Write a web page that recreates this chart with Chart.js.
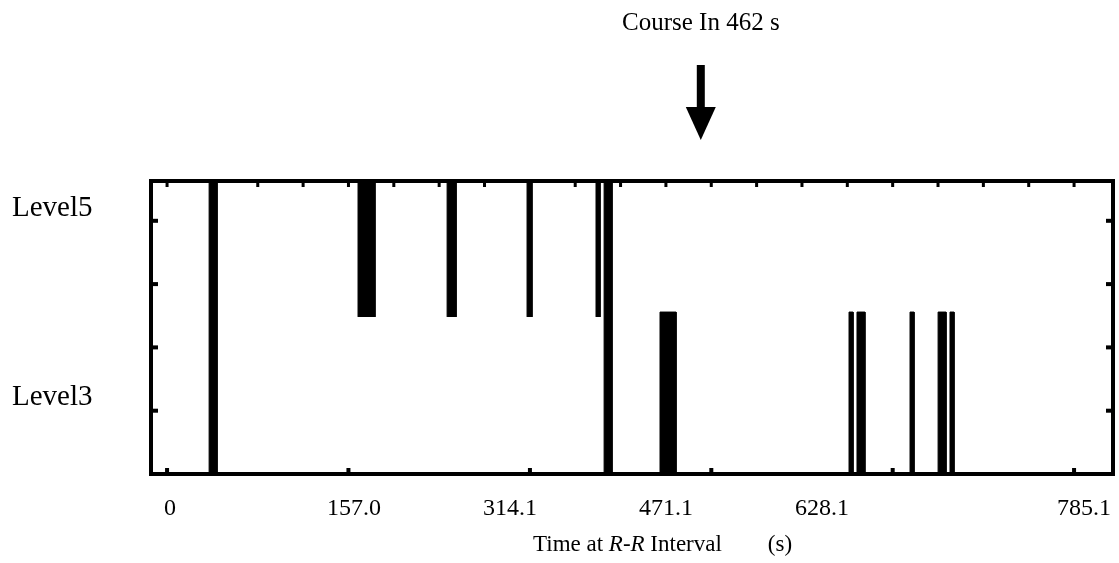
<!DOCTYPE html>
<html>
<head>
<meta charset="utf-8">
<script src="https://cdn.jsdelivr.net/npm/chart.js@4.4.1/dist/chart.umd.min.js"></script>
<style>
  html, body { margin:0; padding:0; background:#fff; }
  #wrap { width:1119px; height:563px; }
</style>
</head>
<body>
<div id="wrap"><canvas id="rr"></canvas></div>
<script>
// time axis (s)
const tickValues = [0, 157.0, 314.1, 471.1, 628.1, 785.1];
const tickLabels = ['0', '157.0', '314.1', '471.1', '628.1', '785.1'];
// where the printed labels actually sit along the time axis (s)
const labelAt = [2.6, 161.9, 296.9, 431.9, 567.0, 793.7];
const courseIn = 462;

// level axis
const levelValues = [5, 3];
const levelLabels = ['Level5', 'Level3'];

// events [start, end] in seconds
const bothEvents   = [[36.4, 43.3], [378.3, 385.2]];
const level5Events = [[165.3, 180.0], [242.4, 250.2], [311.6, 315.9], [371.3, 374.8]];
const level3Events = [[426.7, 440.6], [590.3, 593.8], [597.2, 604.1], [643.1, 646.6], [667.4, 674.3], [677.7, 681.2]];

// axis ranges / band edges
const xMin = -13.9, xMax = 818.8;
const yMin = 2.185, yMax = 5.286;
const level5Low = 3.847, level3High = 3.899;

function rects(events, lo, hi) {
  const pts = [];
  events.forEach(([a, b]) => {
    pts.push({x:a, y:lo}, {x:a, y:hi}, {x:b, y:hi}, {x:b, y:lo}, {x:b, y:null});
  });
  return pts;
}

function eventSet(events, lo, hi) {
  return {
    data: rects(events, lo, hi),
    borderColor:'#000', borderWidth:1, backgroundColor:'#000',
    fill:{value: lo}, pointRadius:0, tension:0, spanGaps:false
  };
}

const serif = '"Liberation Serif", "Times New Roman", serif';

// frame, inner tick marks, arrow + labels
const decor = {
  id:'decor',
  afterDatasetsDraw(chart) {
    const {ctx, chartArea:{left,right,top,bottom}, scales:{x}} = chart;
    ctx.save();
    ctx.fillStyle = '#000';
    ctx.strokeStyle = '#000';
    ctx.lineWidth = 4;
    ctx.strokeRect(left, top, right-left, bottom-top);
    // small inward ticks
    tickValues.forEach(v => {
      const px = x.getPixelForValue(v);
      ctx.fillRect(px-2, bottom-6, 4, 5);
    });
    for (let v = tickValues[0]; v < xMax; v += 39.255) {
      const px = x.getPixelForValue(v);
      ctx.fillRect(px-1.5, top+1, 3, 5);
    }
    for (let py = bottom-63.3; py > top+5; py -= 63.3) {
      ctx.fillRect(left+1, py-2, 6, 4);
      ctx.fillRect(right-7, py-2, 6, 4);
    }
    // course-in arrow
    const ax = x.getPixelForValue(courseIn);
    ctx.fillRect(ax-4, 65, 8, 45);
    ctx.beginPath();
    ctx.moveTo(ax-15, 107); ctx.lineTo(ax+15, 107); ctx.lineTo(ax, 140);
    ctx.closePath(); ctx.fill();
    ctx.font = '25px ' + serif;
    ctx.textAlign = 'center'; ctx.textBaseline = 'middle';
    ctx.fillText('Course In ' + courseIn + ' s', ax, 23);
    // axis title with italic R-R
    ctx.textAlign = 'left';
    ctx.font = '23px ' + serif;
    let tx = 533, ty = 545;
    ctx.fillText('Time at ', tx, ty); tx += ctx.measureText('Time at ').width;
    ctx.font = 'italic 23px ' + serif;
    ctx.fillText('R-R', tx, ty); tx += ctx.measureText('R-R').width;
    ctx.font = '23px ' + serif;
    ctx.fillText(' Interval', tx, ty);
    ctx.textAlign = 'center';
    ctx.fillText('(s)', 780, ty);
    ctx.restore();
  }
};

new Chart(document.getElementById('rr'), {
  type:'line',
  data:{
    datasets:[
      eventSet(bothEvents, yMin, yMax),
      eventSet(level5Events, level5Low, yMax),
      eventSet(level3Events, yMin, level3High)
    ]
  },
  options:{
    responsive:true, maintainAspectRatio:false, animation:false,
    layout:{ padding:{ top:181, left:12, right:6 } },
    plugins:{ legend:{display:false}, tooltip:{enabled:false}, title:{display:false} },
    scales:{
      x:{
        type:'linear', min:xMin, max:xMax,
        afterBuildTicks(s){ s.ticks = labelAt.map(v => ({value:v})); },
        afterFit(s){ s.height = 89; s.paddingLeft = 0; s.paddingRight = 0; },
        grid:{ display:false, drawTicks:false },
        border:{ display:false },
        ticks:{
          color:'#000', padding:20, maxRotation:0, autoSkip:false,
          font:{ family:serif, size:24 },
          callback:(v, i) => tickLabels[i]
        }
      },
      y:{
        type:'linear', min:yMin, max:yMax,
        afterBuildTicks(s){ s.ticks = levelValues.map(v => ({value:v})); },
        afterFit(s){ s.width = 139; s.paddingTop = 0; s.paddingBottom = 0; },
        grid:{ display:false, drawTicks:false },
        border:{ display:false },
        ticks:{
          color:'#000', crossAlign:'far', padding:0, autoSkip:false,
          font:{ family:serif, size:29 },
          callback:(v, i) => levelLabels[i]
        }
      }
    }
  },
  plugins:[decor]
});
</script>
</body>
</html>
